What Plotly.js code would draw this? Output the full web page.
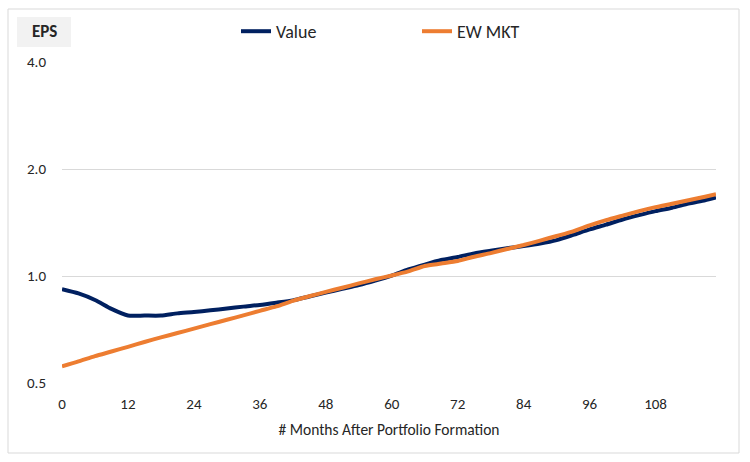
<!DOCTYPE html>
<html>
<head>
<meta charset="utf-8">
<script src="https://cdn.plot.ly/plotly-3.0.1.min.js"></script>
<style>html,body{margin:0;padding:0;background:#fff;}#chart{width:750px;height:462px;}</style>
</head>
<body>
<div id="chart"></div>
<script>
var months = [0,3,6,9,12,15,18,21,24,27,30,33,36,39,42,45,48,51,54,57,60,63,66,69,72,75,78,81,84,87,90,93,96,99,102,105,108,111,114,117,119];
var valueSeries = [0.918,0.893,0.856,0.808,0.774,0.774,0.774,0.785,0.792,0.801,0.810,0.820,0.829,0.841,0.854,0.876,0.898,0.920,0.943,0.971,1.003,1.043,1.077,1.109,1.131,1.158,1.178,1.197,1.214,1.234,1.262,1.305,1.352,1.395,1.442,1.483,1.522,1.556,1.598,1.634,1.663];
var ewMktSeries = [0.557,0.575,0.595,0.613,0.632,0.652,0.672,0.691,0.711,0.732,0.753,0.775,0.798,0.821,0.851,0.877,0.902,0.927,0.953,0.979,1.003,1.030,1.067,1.084,1.102,1.133,1.160,1.191,1.222,1.258,1.296,1.336,1.388,1.436,1.479,1.522,1.562,1.597,1.634,1.671,1.699];
var xTicks = [0,12,24,36,48,60,72,84,96,108];
var yTicks = [0.5,1,2,4];
var yTickText = ['0.5','1.0','2.0','4.0'];
var seriesNames = ['Value','EW MKT'];

var FONT = "Carlito, Calibri, Lato, sans-serif";

var traces = [
  {x: months, y: valueSeries, name: seriesNames[0], type: 'scatter', mode: 'lines',
   line: {color: '#002060', width: 4, shape: 'spline', smoothing: 0.6}},
  {x: months, y: ewMktSeries, name: seriesNames[1], type: 'scatter', mode: 'lines',
   line: {color: '#ED7D31', width: 4, shape: 'spline', smoothing: 0.6}}
];

var L = 62, R = 716, T = 62, B = 383;
function px(x){ return (x - L) / (R - L); }
function py(y){ return (B - y) / (B - T); }

var layout = {
  width: 750, height: 462,
  margin: {l: L, r: 750 - R, t: T, b: 462 - B},
  paper_bgcolor: '#ffffff', plot_bgcolor: '#ffffff',
  font: {family: FONT, color: '#262626', size: 15},
  showlegend: true,
  legend: {orientation: 'h', x: px(236), y: py(13), xanchor: 'left', yanchor: 'top',
           entrywidth: 136, entrywidthmode: 'pixels',
           font: {family: FONT, size: 18, color: '#262626'}, bgcolor: 'rgba(0,0,0,0)',
           itemwidth: 30, tracegroupgap: 0},
  xaxis: {range: [0, 119], tickvals: xTicks, ticktext: xTicks.map(String), showgrid: false,
          zeroline: false, showline: false, ticks: '', ticklabelstandoff: 10,
          tickfont: {family: FONT, size: 15, color: '#262626'},
          title: {text: '# Months After Portfolio Formation', standoff: 12,
                  font: {family: FONT, size: 15.5, color: '#262626'}}},
  yaxis: {type: 'log', range: [Math.log10(0.5), Math.log10(4)], tickvals: yTicks, ticktext: yTickText,
          showgrid: true, gridcolor: '#D9D9D9', gridwidth: 1, zeroline: false, showline: false,
          ticks: '', ticklabelstandoff: 15,
          tickfont: {family: FONT, size: 15, color: '#262626'}},
  shapes: [
    {type: 'rect', xref: 'paper', yref: 'paper', x0: px(8), x1: px(739), y0: py(453), y1: py(9),
     line: {color: '#D9D9D9', width: 1}, fillcolor: 'rgba(0,0,0,0)', layer: 'below'},
    {type: 'rect', xref: 'paper', yref: 'paper', x0: px(17), x1: px(71), y0: py(47), y1: py(17),
     line: {width: 0}, fillcolor: '#F2F2F2', layer: 'below'}
  ],
  annotations: [
    {xref: 'paper', yref: 'paper', x: px(44), y: py(32), text: '<b>EPS</b>', showarrow: false,
     xanchor: 'center', yanchor: 'middle', font: {family: FONT, size: 17, color: '#262626'}}
  ]
};

Plotly.newPlot('chart', traces, layout, {displayModeBar: false, staticPlot: true});
</script>
</body>
</html>
